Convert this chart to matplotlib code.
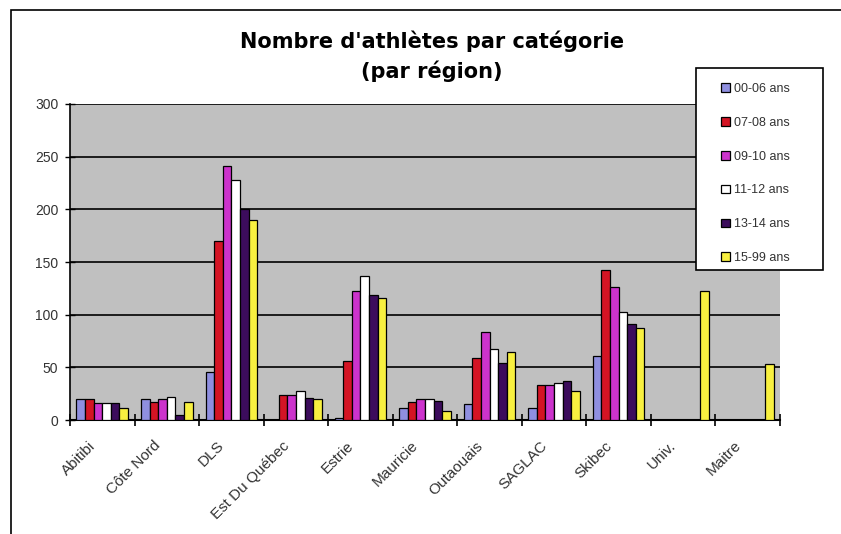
import numpy as np
import matplotlib.pyplot as plt
from matplotlib.patches import Rectangle

plt.rcParams['font.family'] = ['Liberation Sans', 'DejaVu Sans']

regions = ["Abitibi", "Côte Nord", "DLS", "Est Du Québec", "Estrie", "Mauricie",
           "Outaouais", "SAGLAC", "Skibec", "Univ.", "Maitre"]
groups = ["00-06 ans", "07-08 ans", "09-10 ans", "11-12 ans", "13-14 ans", "15-99 ans"]

# one list per age group, one value per region
ans_00_06 = [20, 20, 46, 0, 2, 11, 15, 11, 61, 0, 0]
ans_07_08 = [20, 17, 170, 24, 56, 17, 59, 33, 142, 0, 0]
ans_09_10 = [16, 20, 241, 24, 122, 20, 84, 33, 126, 0, 0]
ans_11_12 = [16, 22, 228, 28, 137, 20, 67, 35, 103, 0, 0]
ans_13_14 = [16, 5, 200, 21, 119, 18, 54, 37, 91, 0, 0]
ans_15_99 = [11, 17, 190, 20, 116, 9, 65, 28, 87, 122, 53]

series = [ans_00_06, ans_07_08, ans_09_10, ans_11_12, ans_13_14, ans_15_99]
colors = ["#8f8fe0", "#d41424", "#cc33cc", "#ffffff", "#3c0c5c", "#f8f040"]

fig = plt.figure(figsize=(8.41, 5.34), dpi=100)
ax = fig.add_axes([70/841, 1 - 420/534, 710/841, 316/534])

# chart border (only top and left visible in the image)
fig.patches.append(Rectangle((11/841, -0.1), 1.0, 1.1 - 10/534, transform=fig.transFigure,
                             fill=False, edgecolor="black", linewidth=1.2))

x = np.arange(len(regions))
w = 0.8 / 6
for i, (vals, c) in enumerate(zip(series, colors)):
    pos = x - 0.4 + w * (i + 0.5)
    ax.bar(pos, vals, width=w, color=c, edgecolor="black", linewidth=0.9,
           label=groups[i], zorder=3)

ax.set_facecolor("#c0c0c0")
ax.set_xlim(-0.5, len(regions) - 0.5)
ax.set_ylim(0, 300)
ax.set_yticks(np.arange(0, 301, 50))
ax.yaxis.grid(True, color="black", linewidth=1.2, zorder=1)
ax.set_axisbelow(True)

ax.set_xticks(np.arange(-0.5, len(regions), 1))
ax.set_xticklabels([])
# rotated labels end a little left of the category centre
ax.set_xticks(x - 0.14, minor=True)
ax.set_xticklabels(regions, minor=True, rotation=45, ha="right", va="center",
                   rotation_mode="anchor", fontsize=11, color="#333333")
ax.tick_params(axis="x", which="minor", length=0, pad=17)
ax.tick_params(axis="x", which="major", length=8, width=1.2, direction="inout")
ax.tick_params(axis="y", length=7, width=1, direction="inout", pad=5,
               labelsize=10, labelcolor="#333333")

for s in ["top", "right"]:
    ax.spines[s].set_visible(False)
ax.spines["left"].set_linewidth(1.2)
ax.spines["bottom"].set_linewidth(1.5)

fig.text(432/841, 1 - 41/534, "Nombre d'athlètes par catégorie", ha="center", va="center",
         fontsize=15, fontweight="bold", family="DejaVu Sans")
fig.text(432/841, 1 - 71/534, "(par région)", ha="center", va="center",
         fontsize=15, fontweight="bold", family="DejaVu Sans")

# legend box
fig.patches.append(Rectangle((696/841, 1 - 270/534), 127/841, 202/534, transform=fig.transFigure,
                             facecolor="white", edgecolor="black", linewidth=1.2, zorder=5))
leg = fig.legend(loc="upper left", bbox_to_anchor=(712/841, 1 - 74/534), fontsize=9,
                 frameon=False, labelspacing=1.75, handlelength=0.7, handleheight=0.7,
                 handletextpad=0.4, borderpad=0.2, labelcolor="#333333")
leg.set_zorder(6)

fig.savefig("out.png", dpi=100)
